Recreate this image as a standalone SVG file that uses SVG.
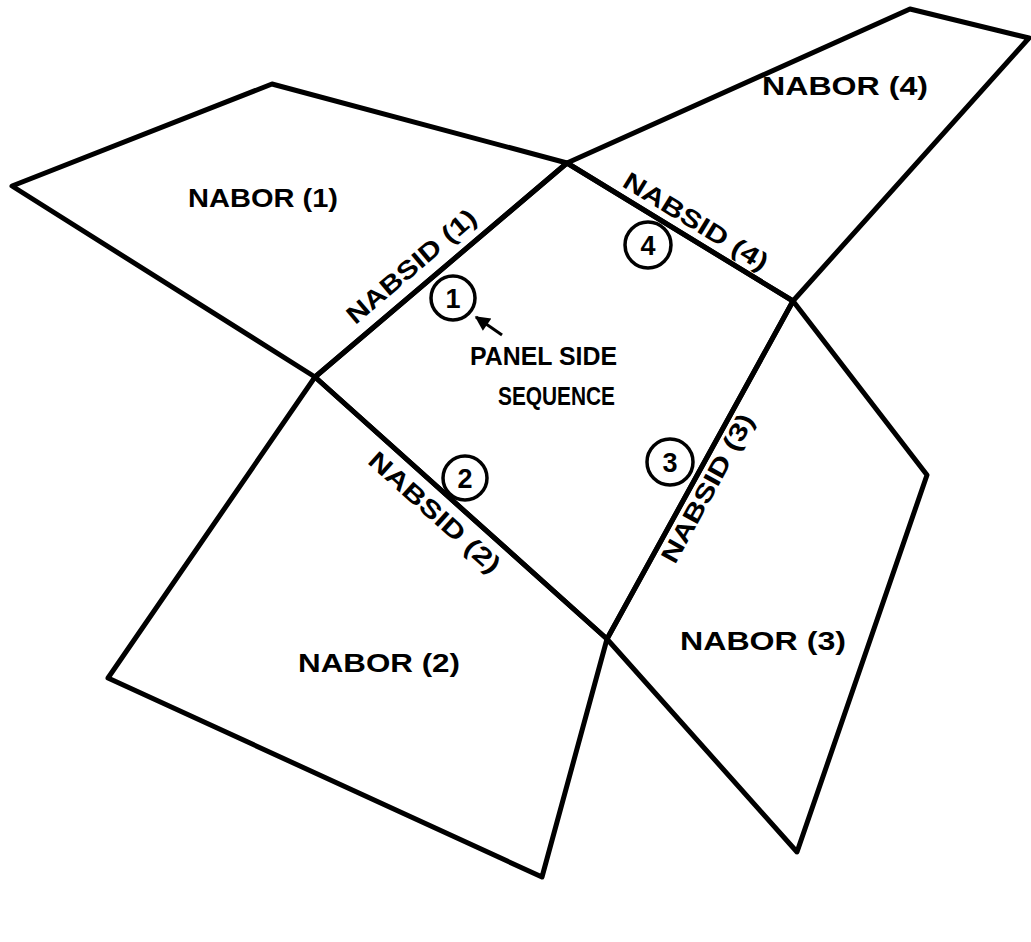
<svg xmlns="http://www.w3.org/2000/svg" width="1031" height="942" viewBox="0 0 1031 942">
<style>
.edge{fill:none;stroke:#000;stroke-width:5;stroke-linejoin:round;stroke-linecap:round}
.lbl{font-family:"Liberation Sans",Arial,sans-serif;font-weight:bold;font-size:25px;fill:#000}
.ring{fill:#fff;stroke:#000;stroke-width:3.5}
.num{font-family:"Liberation Sans",Arial,sans-serif;font-weight:bold;font-size:27px;fill:#000;text-anchor:middle}
</style>
<defs>
<marker id="ah" viewBox="0 0 10 10" refX="9" refY="5" markerWidth="7" markerHeight="5" orient="auto" markerUnits="strokeWidth">
<path d="M0,0 L10,5 L0,10 z" fill="#000"/>
</marker>
</defs>
<rect width="1031" height="942" fill="#fff"/>
<g id="nabor1"><polygon class="edge" points="315,377 12,186 272,84 567,163"/>
<text class="lbl" x="188" y="207" textLength="150" lengthAdjust="spacingAndGlyphs">NABOR (1)</text></g>
<g id="nabor4"><polygon class="edge" points="567,163 910,9 1029,38 793,301"/>
<text class="lbl" x="762" y="95" textLength="166" lengthAdjust="spacingAndGlyphs">NABOR (4)</text></g>
<g id="nabor3"><polygon class="edge" points="793,301 927,475 797,852 607,639"/>
<text class="lbl" x="680" y="650" textLength="166" lengthAdjust="spacingAndGlyphs">NABOR (3)</text></g>
<g id="nabor2"><polygon class="edge" points="607,639 542,877 108,678 315,377"/>
<text class="lbl" x="298" y="672" textLength="162" lengthAdjust="spacingAndGlyphs">NABOR (2)</text></g>
<g id="panel"><polygon class="edge" points="567,163 793,301 607,639 315,377"/>
<text class="lbl" x="470" y="365" textLength="147" lengthAdjust="spacingAndGlyphs">PANEL SIDE</text>
<text class="lbl" x="498" y="405" textLength="117" lengthAdjust="spacingAndGlyphs">SEQUENCE</text></g>
<g id="side1"><text class="lbl" text-anchor="middle" transform="translate(411,266) rotate(-40.4)" x="0" y="9" textLength="162" lengthAdjust="spacingAndGlyphs">NABSID (1)</text>
<circle class="ring" cx="453" cy="298" r="22"/><text class="num" x="453" y="308">1</text></g>
<g id="side2"><text class="lbl" text-anchor="middle" transform="translate(435,512) rotate(42)" x="0" y="9" textLength="168" lengthAdjust="spacingAndGlyphs">NABSID (2)</text>
<circle class="ring" cx="465" cy="478" r="22"/><text class="num" x="465" y="488">2</text></g>
<g id="side3"><text class="lbl" text-anchor="middle" transform="translate(707,488) rotate(-61.2)" x="0" y="9" textLength="166" lengthAdjust="spacingAndGlyphs">NABSID (3)</text>
<circle class="ring" cx="670" cy="462" r="23"/><text class="num" x="670" y="472">3</text></g>
<g id="side4"><text class="lbl" text-anchor="middle" transform="translate(696,221) rotate(31.4)" x="0" y="9" textLength="165" lengthAdjust="spacingAndGlyphs">NABSID (4)</text>
<circle class="ring" cx="648" cy="245" r="23"/><text class="num" x="648" y="255">4</text></g>
<g id="connectors"><line x1="502" y1="335" x2="476" y2="317" stroke="#000" stroke-width="3" marker-end="url(#ah)"/></g>
</svg>
